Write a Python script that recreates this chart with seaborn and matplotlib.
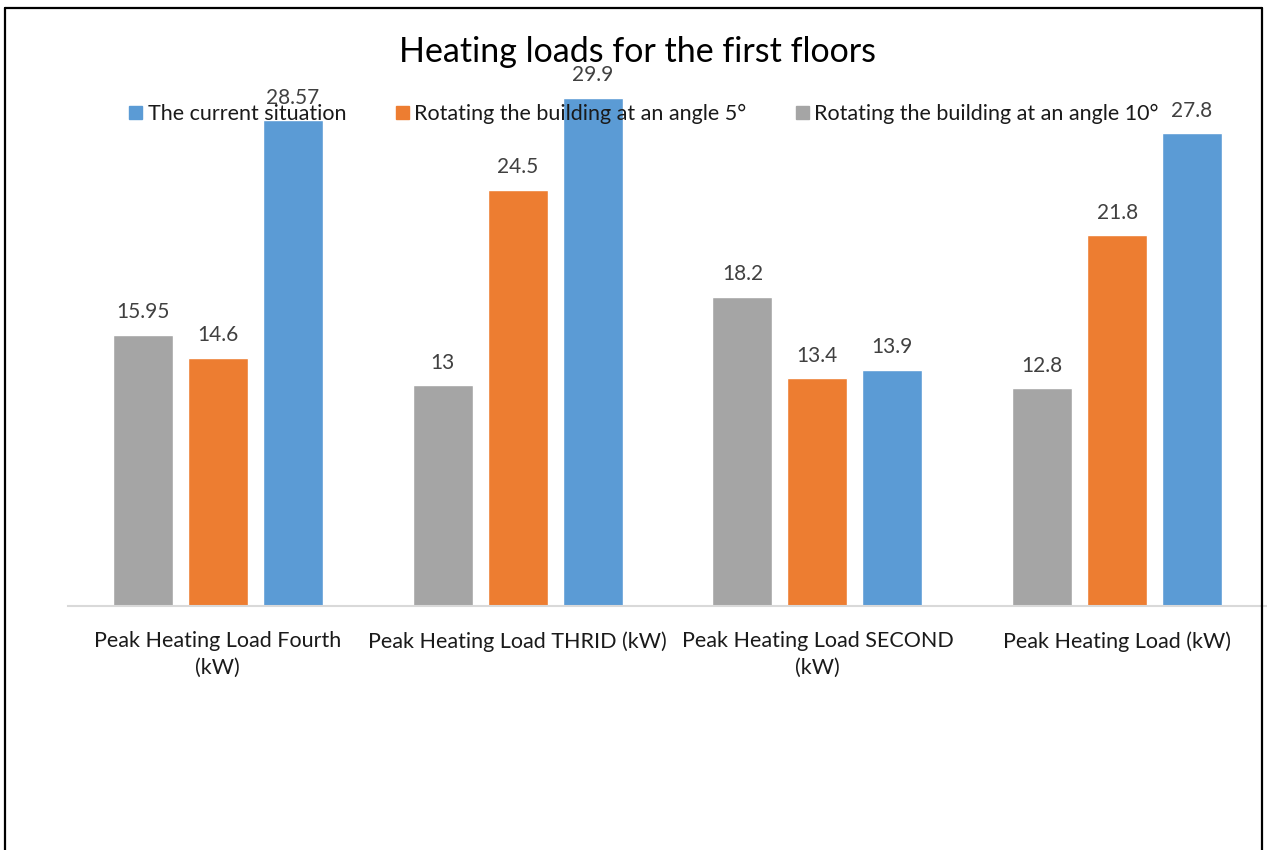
import matplotlib
matplotlib.use("Agg")
import matplotlib.pyplot as plt
from matplotlib.lines import Line2D
import seaborn as sns
import pandas as pd

categories = [
    "Peak Heating Load Fourth\n(kW)",
    "Peak Heating Load THRID (kW)",
    "Peak Heating Load SECOND\n(kW)",
    "Peak Heating Load (kW)",
]
series_names = [
    "The current situation",
    "Rotating the building at an angle 5°",
    "Rotating the building at an angle 10°",
]
current = [28.57, 29.9, 13.9, 27.8]
angle_5 = [14.6, 24.5, 13.4, 21.8]
angle_10 = [15.95, 13, 18.2, 12.8]
value_labels = {
    series_names[0]: ["28.57", "29.9", "13.9", "27.8"],
    series_names[1]: ["14.6", "24.5", "13.4", "21.8"],
    series_names[2]: ["15.95", "13", "18.2", "12.8"],
}
colors = {
    series_names[0]: "#5B9BD5",
    series_names[1]: "#ED7D31",
    series_names[2]: "#A5A5A5",
}

rows = []
for name, vals in zip(series_names, [current, angle_5, angle_10]):
    for cat, v in zip(categories, vals):
        rows.append({"category": cat, "series": name, "value": v})
df = pd.DataFrame(rows)

sns.set_theme(style="white")
plt.rcParams["font.family"] = ["Lato", "DejaVu Sans"]

fig = plt.figure(figsize=(12.67, 8.5), dpi=100)
ax = fig.add_axes([68 / 1267, 244 / 850, 1199 / 1267, 510 / 850])

hue_order = [series_names[2], series_names[1], series_names[0]]
sns.barplot(
    data=df, x="category", y="value", hue="series",
    order=categories, hue_order=hue_order, palette=colors,
    width=0.75, gap=0.2, saturation=1, ax=ax, legend=False,
)

ax.set_ylim(0, 30)
ax.set_xlim(-0.5, 3.5)
ax.set_xlabel("")
ax.set_ylabel("")
ax.set_yticks([])
for s in ["top", "right", "left"]:
    ax.spines[s].set_visible(False)
ax.spines["bottom"].set_color("#D9D9D9")
ax.spines["bottom"].set_linewidth(1.5)
ax.tick_params(axis="x", length=0, pad=18, labelsize=15.5, labelcolor="#1a1a1a")
for lbl in ax.get_xticklabels():
    lbl.set_linespacing(1.45)

for container, name in zip(ax.containers, hue_order):
    ax.bar_label(container, labels=value_labels[name], padding=9,
                 fontsize=15, color="#404040")

# Legend across the top
handles = [plt.Rectangle((0, 0), 1, 1, color=colors[n]) for n in series_names]
leg = fig.legend(handles, series_names, loc="center", ncol=3,
                 bbox_to_anchor=(644 / 1267, 1 - 114 / 850), frameon=False,
                 fontsize=15.5, handlelength=0.6, handleheight=0.6,
                 handletextpad=0.25, columnspacing=2.3, labelcolor="#1a1a1a")
leg.set_zorder(5)

fig.text(637 / 1267, 1 - 52 / 850, "Heating loads for the first floors",
         ha="center", va="center", fontsize=24.5, color="#000000")

# Chart frame
for xs, ys in [((5 / 1267, 5 / 1267), (0, 1 - 8 / 850)),
               ((5 / 1267, 1262 / 1267), (1 - 8 / 850, 1 - 8 / 850)),
               ((1262 / 1267, 1262 / 1267), (1 - 8 / 850, 0))]:
    fig.add_artist(Line2D(xs, ys, transform=fig.transFigure,
                          color="#000000", linewidth=1.6))

fig.savefig("out.png", dpi=100, facecolor="white")
